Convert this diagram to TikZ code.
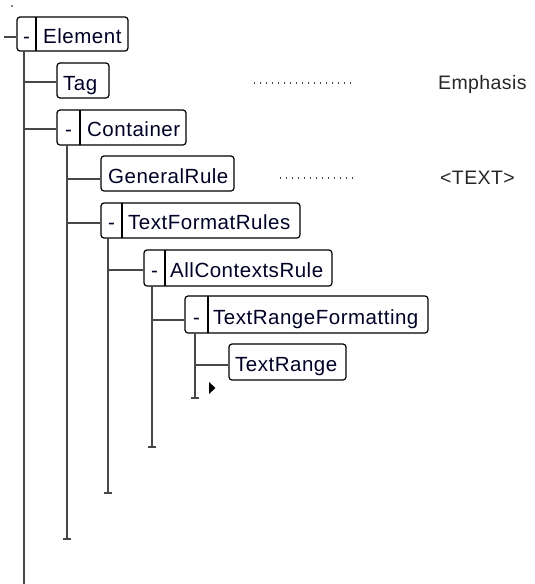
\documentclass[tikz,border=0pt]{standalone}
\usepackage{fontspec}
\setmainfont{Liberation Sans}
\begin{document}
\begin{tikzpicture}[x=1pt,y=-1pt,
  box/.style={draw=black,line width=1.2pt,rounded corners=3pt,fill=white,inner sep=0pt},
  lbl/.style={anchor=base west,inner sep=0pt,text=black!85!blue,font=\fontsize{20.5}{24}\selectfont\addfontfeature{LetterSpace=2.5}},
  minus/.style={anchor=base,inner sep=0pt,text=black!85!blue,font=\fontsize{20.5}{24}\selectfont},
  conn/.style={draw=black!72,line width=1.8pt},
  dots/.style={draw=black!75,line width=1.3pt,dash pattern=on 1.2pt off 4.8pt},
  side/.style={anchor=base west,inner sep=0pt,text=black!85,font=\fontsize{19.5}{23}\selectfont\addfontfeature{LetterSpace=2}}]
\useasboundingbox (0,0) rectangle (535,584);
\fill[black] (12,6) circle (0.8);
% boxes
\node[box,minimum width=111pt,minimum height=34pt] (el) at (72.5,34) {};
\node[box,minimum width=52pt,minimum height=35pt] (tag) at (83,80.5) {};
\node[box,minimum width=129pt,minimum height=35pt] (con) at (121.5,127.5) {};
\node[box,minimum width=133pt,minimum height=35pt] (gen) at (167.5,173.5) {};
\node[box,minimum width=199pt,minimum height=35pt] (tfr) at (200.5,220.5) {};
\node[box,minimum width=188pt,minimum height=36pt] (acr) at (238,268) {};
\node[box,minimum width=243pt,minimum height=37pt] (trf) at (306.5,314.5) {};
\node[box,minimum width=117pt,minimum height=36pt] (tr) at (287.5,362) {};
% dividers
\draw[line width=1.2pt] (36,17) -- (36,51);
\draw[line width=1.2pt] (80,110) -- (80,145);
\draw[line width=1.2pt] (122,203) -- (122,238);
\draw[line width=1.2pt] (165,250) -- (165,286);
\draw[line width=1.2pt] (208,296) -- (208,333);
% minus signs
\node[minus] (m1) at (26.5,43) {-};
\node[minus] (m2) at (68.5,136.5) {-};
\node[minus] (m3) at (111.5,229.5) {-};
\node[minus] (m4) at (154.5,277.5) {-};
\node[minus] (m5) at (196.5,324.5) {-};
% labels
\node[lbl] (t1) at (43,43) {Element};
\node[lbl] (t2) at (63,90) {Tag};
\node[lbl] (t3) at (87,136.5) {Container};
\node[lbl] (t4) at (108,183) {GeneralRule};
\node[lbl] (t5) at (128,229.5) {TextFormatRules};
\node[lbl] (t6) at (170,277.5) {AllContextsRule};
\node[lbl] (t7) at (213,324.5) {TextRangeFormatting};
\node[lbl] (t8) at (235,371.5) {TextRange};
% trunk coordinates
\coordinate (v0t) at (24,51);  \coordinate (v0b) at (24,584);
\coordinate (v1t) at (67,145); \coordinate (v1b) at (67,539);
\coordinate (v2t) at (108,238);\coordinate (v2b) at (108,493);
\coordinate (v3t) at (152,286);\coordinate (v3b) at (152,447);
\coordinate (v4t) at (195,333);\coordinate (v4b) at (195,398);
\coordinate (stub) at (4,37);
% connectors
\draw[conn] (stub) -- (stub -| el.west);
\draw[conn] (v0t) -- (v0b);
\draw[conn] (v1t) -- (v1b); \draw[conn] ([xshift=-4pt]v1b) -- ([xshift=4pt]v1b);
\draw[conn] (v2t) -- (v2b); \draw[conn] ([xshift=-4pt]v2b) -- ([xshift=4pt]v2b);
\draw[conn] (v3t) -- (v3b); \draw[conn] ([xshift=-4pt]v3b) -- ([xshift=4pt]v3b);
\draw[conn] (v4t) -- (v4b); \draw[conn] ([xshift=-4pt]v4b) -- ([xshift=4pt]v4b);
\draw[conn] (v0t |- 0,82) -- (tag.west |- 0,82);
\draw[conn] (v0t |- 0,129) -- (con.west |- 0,129);
\draw[conn] (v1t |- 0,179) -- (gen.west |- 0,179);
\draw[conn] (v1t |- 0,223) -- (tfr.west |- 0,223);
\draw[conn] (v2t |- 0,270) -- (acr.west |- 0,270);
\draw[conn] (v3t |- 0,320) -- (trf.west |- 0,320);
\draw[conn] (v4t |- 0,365) -- (tr.west |- 0,365);
% expand marker
\fill[black] (209,382) -- (215.5,388) -- (209,394) -- cycle;
% side texts
\node[side] (emph) at (438,89) {Emphasis};
\node[side] (txt) at (440,184) {<TEXT>};
\coordinate (d1a) at (254,83); \coordinate (d1b) at (353,83);
\coordinate (d2a) at (280,178); \coordinate (d2b) at (353,178);
\draw[dots] (d1a) -- (d1b);
\draw[dots] (d2a) -- (d2b);
\end{tikzpicture}
\end{document}
